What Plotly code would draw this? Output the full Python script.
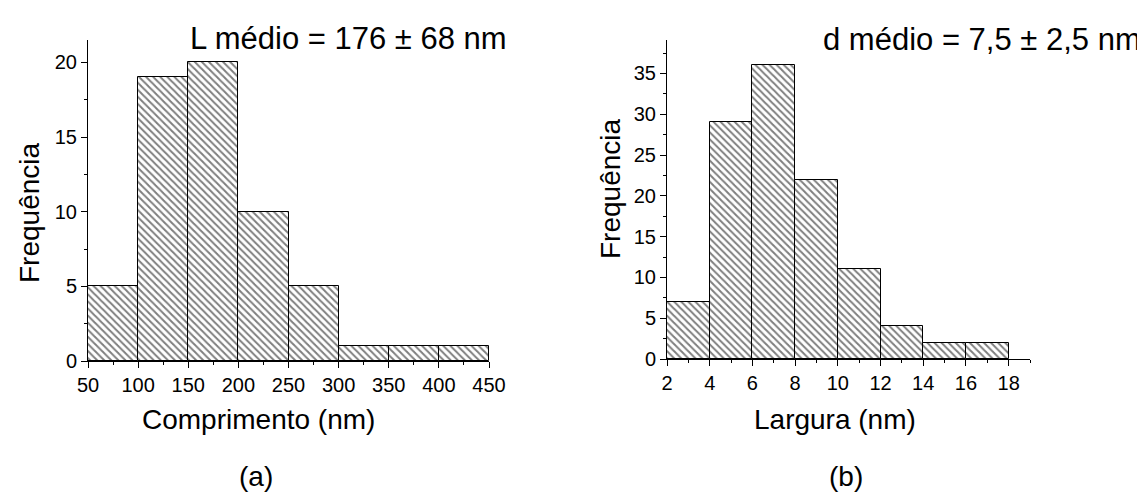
import plotly.graph_objects as go
from plotly.subplots import make_subplots

# histogram (a): comprimento
comp_edges = [50, 100, 150, 200, 250, 300, 350, 400, 450]
comp_counts = [5, 19, 20, 10, 5, 1, 1, 1]

# histogram (b): largura
larg_edges = [2, 4, 6, 8, 10, 12, 14, 16, 18]
larg_counts = [7, 29, 36, 22, 11, 4, 2, 2]

W, H = 1145, 497
FONT = "Liberation Sans, Arial, sans-serif"


def centers(edges):
    return [(a + b) / 2 for a, b in zip(edges[:-1], edges[1:])]


def widths(edges):
    return [b - a for a, b in zip(edges[:-1], edges[1:])]


hatch = dict(shape="\\", size=5, solidity=0.4, fgcolor="black", bgcolor="white")

fig = make_subplots(rows=1, cols=2)

fig.add_trace(go.Bar(x=centers(comp_edges), y=comp_counts, width=widths(comp_edges),
                     marker=dict(color="white", pattern=hatch, line=dict(color="black", width=1))),
              row=1, col=1)
fig.add_trace(go.Bar(x=centers(larg_edges), y=larg_counts, width=widths(larg_edges),
                     marker=dict(color="white", pattern=hatch, line=dict(color="black", width=1))),
              row=1, col=2)

axis_common = dict(showline=True, linecolor="black", linewidth=1, showgrid=False, zeroline=False,
                   ticks="outside", ticklen=6, tickcolor="black", tickwidth=1, automargin=False,
                   tickfont=dict(family=FONT, size=20, color="black"))

fig.update_xaxes(**axis_common)
fig.update_yaxes(**axis_common)

fig.update_xaxes(domain=[80 / W, 481 / W], range=[50, 450], dtick=50, tick0=50,
                 minor=dict(ticks="outside", dtick=25, tick0=50, ticklen=3, tickcolor="black"),
                 row=1, col=1)
fig.update_yaxes(domain=[1 - 353 / H, 1 - 32 / H], range=[0, 21.5], dtick=5,
                 minor=dict(ticks="outside", dtick=2.5, ticklen=3, tickcolor="black"),
                 row=1, col=1)

fig.update_xaxes(domain=[659 / W, 1022 / W], range=[2, 19], dtick=2, tick0=2,
                 minor=dict(ticks="outside", dtick=1, tick0=2, ticklen=3, tickcolor="black"),
                 row=1, col=2)
fig.update_yaxes(domain=[1 - 351 / H, 1 - 32 / H], range=[0, 39.1], dtick=5,
                 minor=dict(ticks="outside", dtick=2.5, ticklen=3, tickcolor="black"),
                 row=1, col=2)

# text, x, y (pixels), size, angle
annots = [
    ("L médio = 176 ± 68 nm", 340, 31, 31, 0),
    ("d médio = 7,5 ± 2,5 nm", 974, 32, 31, 0),
    ("Comprimento (nm)", 250, 411, 28, 0),
    ("Largura (nm)", 827, 411, 28, 0),
    ("Frequência", 22, 205, 28, -90),
    ("Frequência", 602, 181, 28, -90),
    ("(a)", 248, 468, 28, 0),
    ("(b)", 838, 468, 28, 0),
]
for text, x, y, size, ang in annots:
    fig.add_annotation(text=text, x=x / W, y=1 - y / H, xref="paper", yref="paper",
                       showarrow=False, xanchor="center", yanchor="middle", textangle=ang,
                       font=dict(family=FONT, size=size, color="black"))

fig.update_layout(width=W, height=H, margin=dict(l=0, r=0, t=0, b=0),
                  plot_bgcolor="white", paper_bgcolor="white", showlegend=False,
                  bargap=0)

fig.write_html("out.html")
